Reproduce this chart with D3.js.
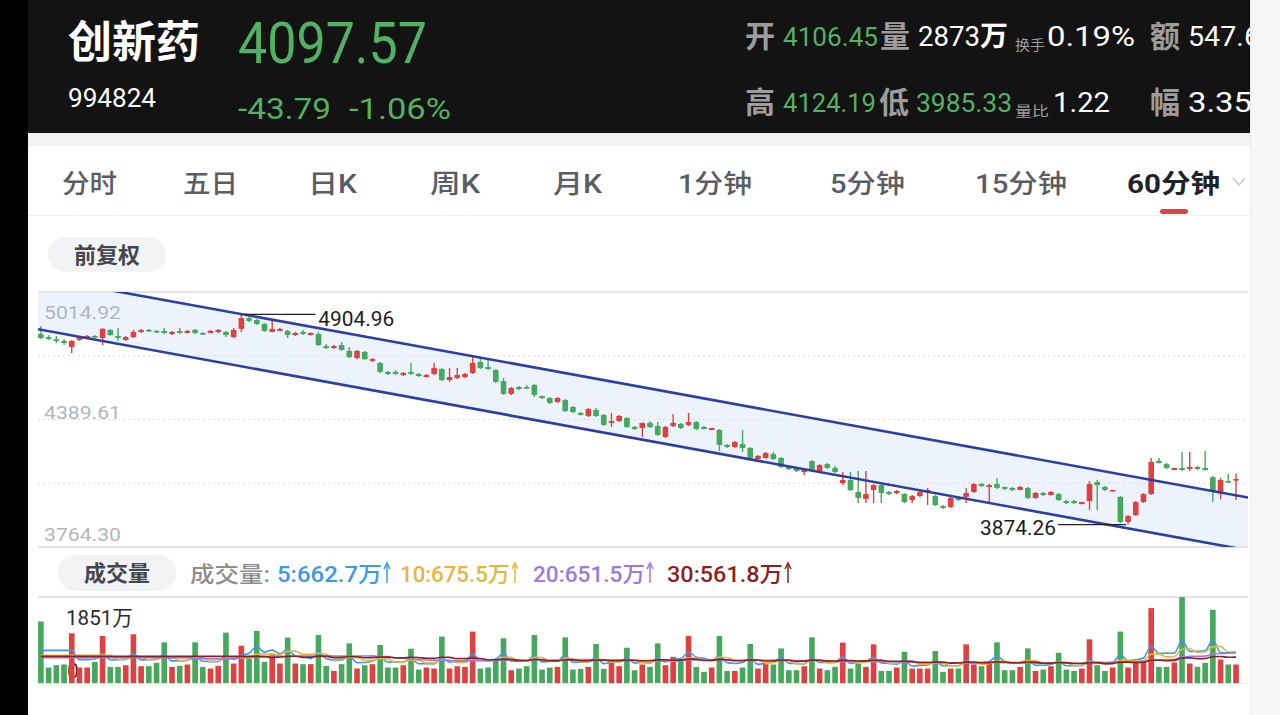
<!DOCTYPE html>
<html>
<head>
<meta charset="utf-8">
<script src="https://cdn.jsdelivr.net/npm/d3@7"></script>
<style>
  body { margin: 0; background: #fff; overflow: hidden; }
  svg { display: block; }
  text { font-family: Roboto, "Noto Sans CJK SC", sans-serif; }
</style>
</head>
<body>
<svg id="chart" width="1280" height="715"></svg>
<script>
// 60-minute candles, oldest first (4 bars per trading day)
const opens = [
  4809, 4794, 4784, 4775, 4745, 4780, 4789, 4799, 4789, 4829,
  4799, 4780, 4794, 4819, 4829, 4824, 4824, 4809, 4824, 4814,
  4829, 4814, 4814, 4819, 4819, 4794, 4834, 4887, 4878, 4858,
  4819, 4824, 4824, 4804, 4819, 4804, 4809, 4750, 4740, 4755,
  4726, 4691, 4721, 4677, 4667, 4623, 4623, 4608, 4623, 4613,
  4598, 4613, 4637, 4583, 4593, 4598, 4618, 4672, 4647, 4632,
  4578, 4515, 4549, 4549, 4559, 4505, 4495, 4475, 4485, 4451,
  4422, 4407, 4436, 4412, 4373, 4382, 4397, 4353, 4348, 4373,
  4358, 4304, 4358, 4368, 4363, 4377, 4353, 4338, 4338, 4265,
  4255, 4269, 4250, 4196, 4201, 4220, 4201, 4157, 4152, 4132,
  4186, 4137, 4171, 4152, 4078, 4093, 4034, 4000, 4044, 4068,
  4034, 4029, 4024, 3995, 4014, 4034, 4014, 3965, 3961, 4005,
  4010, 4034, 4073, 4059, 4073, 4059, 4054, 4044, 4054, 4005,
  4029, 4019, 4024, 3990, 3990, 3975, 3990, 4083, 4059, 4039,
  4010, 3887, 3921, 3985, 4024, 4186, 4171, 4142, 4152, 4147,
  4157, 4152, 4106.45, 4029, 4088, 4093
];
const highs = [
  4848, 4804, 4799, 4784, 4780, 4799, 4804, 4804, 4838, 4834,
  4838, 4799, 4829, 4834, 4834, 4829, 4838, 4824, 4838, 4829,
  4834, 4819, 4829, 4834, 4824, 4838, 4904.96, 4897, 4883, 4863,
  4878, 4838, 4829, 4819, 4829, 4816, 4819, 4760, 4755, 4770,
  4745, 4731, 4726, 4691, 4672, 4628, 4632, 4623, 4667, 4618,
  4613, 4667, 4642, 4642, 4642, 4618, 4696, 4696, 4691, 4637,
  4593, 4549, 4554, 4559, 4564, 4507, 4500, 4500, 4490, 4456,
  4426, 4446, 4446, 4417, 4422, 4412, 4402, 4358, 4375, 4382,
  4377, 4358, 4417, 4373, 4422, 4382, 4358, 4349, 4343, 4269,
  4284, 4338, 4255, 4216, 4230, 4230, 4206, 4162, 4157, 4152,
  4191, 4171, 4176, 4162, 4132, 4132, 4137, 4137, 4073, 4073,
  4039, 4044, 4029, 4019, 4039, 4054, 4019, 3970, 4010, 4010,
  4054, 4078, 4078, 4073, 4103, 4060, 4059, 4063, 4059, 4034,
  4034, 4039, 4029, 3995, 3995, 3986, 4088, 4093, 4063, 4045,
  4014, 3921, 3990, 4029, 4201, 4201, 4176, 4153, 4230, 4230,
  4162, 4235, 4112, 4103, 4122, 4124.19
];
const lows = [
  4784, 4780, 4765, 4755, 4716, 4775, 4784, 4789, 4755, 4799,
  4775, 4775, 4789, 4814, 4819, 4814, 4809, 4804, 4809, 4812,
  4809, 4804, 4812, 4814, 4794, 4789, 4819, 4868, 4853, 4819,
  4817, 4822, 4789, 4799, 4804, 4802, 4750, 4735, 4735, 4726,
  4691, 4686, 4681, 4672, 4618, 4608, 4608, 4603, 4608, 4598,
  4596, 4608, 4578, 4574, 4588, 4593, 4613, 4637, 4632, 4569,
  4510, 4510, 4534, 4539, 4500, 4490, 4466, 4471, 4426, 4422,
  4409, 4402, 4402, 4358, 4353, 4377, 4348, 4338, 4304, 4348,
  4309, 4299, 4353, 4343, 4358, 4338, 4340, 4337, 4235, 4250,
  4250, 4230, 4196, 4191, 4196, 4191, 4152, 4142, 4132, 4117,
  4132, 4132, 4147, 4127, 4068, 4039, 3980, 3980, 3980, 3980,
  4019, 4024, 3980, 3980, 4010, 3970, 3965, 3951, 3956, 3990,
  3980, 4029, 4059, 3985, 4049, 4044, 4039, 4042, 4000, 4000,
  4014, 4017, 3990, 3975, 3975, 3974, 3946, 3946, 4039, 4038,
  3882, 3874.26, 3916, 3980, 4019, 4174, 4147, 4141, 4137, 4137,
  4142, 4139, 3985.33, 3999, 4078, 3995
];
const closes = [
  4789, 4784, 4775, 4765, 4775, 4794, 4799, 4794, 4834, 4804,
  4789, 4794, 4819, 4829, 4824, 4819, 4814, 4819, 4814, 4824,
  4814, 4809, 4824, 4829, 4804, 4829, 4887, 4873, 4858, 4824,
  4834, 4834, 4804, 4814, 4809, 4814, 4755, 4740, 4750, 4731,
  4696, 4726, 4686, 4686, 4623, 4613, 4613, 4618, 4613, 4603,
  4608, 4642, 4583, 4598, 4608, 4613, 4667, 4642, 4637, 4574,
  4515, 4544, 4539, 4544, 4510, 4495, 4471, 4495, 4431, 4426,
  4412, 4441, 4407, 4363, 4382, 4407, 4353, 4343, 4373, 4353,
  4314, 4353, 4373, 4348, 4377, 4343, 4343, 4348, 4265, 4255,
  4279, 4250, 4201, 4211, 4225, 4196, 4157, 4147, 4137, 4142,
  4137, 4166, 4152, 4132, 4093, 4044, 4005, 4024, 4068, 4029,
  4024, 4039, 3985, 4014, 4034, 4044, 3970, 3956, 4005, 3995,
  4029, 4073, 4063, 4068, 4054, 4049, 4044, 4059, 4005, 4029,
  4019, 4034, 3995, 3980, 3980, 3985, 4073, 4068, 4044, 4044,
  3887, 3916, 3985, 4024, 4181, 4176, 4152, 4152, 4142, 4157,
  4147, 4141.36, 4034, 4093, 4083, 4097.57
];
// volume per bar, in 万
const volumes = [
  1323, 333, 383, 398, 1070, 333, 333, 455, 1012, 347,
  347, 383, 1048, 361, 361, 434, 875, 347, 369, 398,
  875, 347, 311, 369, 1084, 419, 802, 528, 1121, 455,
  636, 419, 976, 419, 405, 405, 1034, 369, 260, 405,
  853, 311, 383, 405, 817, 333, 333, 383, 737, 289,
  333, 311, 998, 311, 361, 347, 1106, 311, 333, 477,
  962, 275, 311, 361, 1034, 289, 333, 347, 983, 289,
  304, 347, 839, 304, 434, 361, 759, 275, 398, 347,
  853, 383, 564, 492, 1012, 347, 239, 333, 1012, 260,
  260, 333, 839, 311, 405, 398, 745, 275, 275, 361,
  983, 311, 275, 347, 868, 311, 419, 347, 831, 260,
  260, 333, 672, 311, 311, 311, 687, 239, 311, 311,
  831, 398, 361, 419, 875, 275, 275, 347, 745, 260,
  289, 361, 651, 289, 260, 311, 940, 383, 260, 333,
  1106, 333, 455, 455, 1612, 347, 347, 441, 1851, 419,
  347, 434, 1576, 506, 398, 398
];

const priceTicks = [5014.92, 4389.61, 3764.30];
const volumeMax = 1851;
// hand-drawn channel, as [bar index, price] end points
const channelUpper = [[0, 5085.5], [155, 4017.9]];
const channelLower = [[0, 4830.0], [155, 3758.9]];

const tabs = ["分时", "五日", "日K", "周K", "月K", "1分钟", "5分钟", "15分钟", "60分钟"];
const maPeriods = [5, 10, 20, 30];
const maLabels = ["5:662.7万", "10:675.5万", "20:651.5万", "30:561.8万"];

const RED = "#e0403f", GREEN = "#45a85a", UP_TXT = "#52b162";
const maColors = ["#3d9ae6", "#e9b63b", "#9b7be2", "#8e1f1f"];

const svg = d3.select("#chart");

function label(g, x, y, s, o = {}) {
  const t = g.append("text").attr("x", x).attr("y", y).text(s)
    .attr("font-size", o.size || 20)
    .attr("fill", o.fill || "#333")
    .attr("font-weight", o.weight || 400)
    .attr("text-anchor", o.anchor || "start");
  if (o.len) t.attr("textLength", o.len).attr("lengthAdjust", "spacingAndGlyphs");
  return t;
}

// page background + frame
svg.append("rect").attr("width", 1280).attr("height", 715).attr("fill", "#fff");
svg.append("rect").attr("x", 28).attr("y", 133).attr("width", 1222).attr("height", 13).attr("fill", "#f3f3f3");

// ---- header ----
const head = svg.append("g");
head.append("rect").attr("x", 28).attr("y", 0).attr("width", 1222).attr("height", 133).attr("fill", "#131313");
label(head, 68, 58, "创新药", { size: 44, fill: "#fff", weight: 700, len: 132 });
label(head, 238, 63, "4097.57", { size: 58, fill: UP_TXT, len: 189 });
label(head, 68, 107, "994824", { size: 25, fill: "#fff", len: 88 });
label(head, 238, 119, "-43.79", { size: 30, fill: UP_TXT, len: 93 });
label(head, 349, 119, "-1.06%", { size: 30, fill: UP_TXT, len: 102 });

const GREY = "#9d9d9d";
label(head, 745, 47, "开", { size: 30, fill: GREY, weight: 700 });
label(head, 783, 46, "4106.45", { size: 26, fill: UP_TXT, len: 95 });
label(head, 880, 47, "量", { size: 30, fill: GREY, weight: 700 });
label(head, 918, 46, "2873", { size: 28, fill: "#fff", len: 62 });
label(head, 980, 46, "万", { size: 28, fill: "#fff", weight: 700 });
label(head, 1015, 50, "换手", { size: 14, fill: GREY, len: 30 });
label(head, 1047, 46, "0.19%", { size: 28, fill: "#fff", len: 88 });
label(head, 1150, 47, "额", { size: 30, fill: GREY, weight: 700 });
label(head, 1188, 46, "547.6", { size: 28, fill: "#fff", len: 72 });

label(head, 745, 113, "高", { size: 30, fill: GREY, weight: 700 });
label(head, 783, 112, "4124.19", { size: 26, fill: UP_TXT, len: 93 });
label(head, 879, 113, "低", { size: 30, fill: GREY, weight: 700 });
label(head, 916, 112, "3985.33", { size: 26, fill: UP_TXT, len: 96 });
label(head, 1015, 116, "量比", { size: 14, fill: GREY, len: 34 });
label(head, 1053, 112, "1.22", { size: 28, fill: "#fff", len: 57 });
label(head, 1150, 113, "幅", { size: 30, fill: GREY, weight: 700 });
label(head, 1188, 112, "3.35%", { size: 28, fill: "#fff", len: 88 });

// ---- period tabs ----
const tabX = [62, 183, 308, 430, 553, 678, 830, 975, 1127];
const tabW = [55, 55, 49, 50, 49, 74, 75, 92, 93];
const tg = svg.append("g");
tabs.forEach((t, k) => {
  const active = k === tabs.length - 1;
  label(tg, tabX[k], 193, t, {
    size: 26, fill: active ? "#1f2226" : "#5a5d62", weight: active ? 700 : 500, len: tabW[k]
  });
});
tg.append("polyline").attr("points", "1233,178 1239,185 1245,178")
  .attr("fill", "none").attr("stroke", "#c9c9c9").attr("stroke-width", 1.5);
tg.append("rect").attr("x", 1160).attr("y", 209).attr("width", 28).attr("height", 5)
  .attr("rx", 2.5).attr("fill", "#d8473d");
tg.append("line").attr("x1", 28).attr("x2", 1250).attr("y1", 215.5).attr("y2", 215.5)
  .attr("stroke", "#efefef");

// pill buttons
function pill(x, y, w, h, s) {
  svg.append("rect").attr("x", x).attr("y", y).attr("width", w).attr("height", h)
    .attr("rx", h / 2).attr("fill", "#f2f3f5");
  label(svg, x + w / 2, y + h / 2 + 8, s, { size: 22, fill: "#43464b", weight: 600, anchor: "middle" });
}
pill(48, 237, 118, 35, "前复权");
pill(58, 555, 118, 36, "成交量");

// ---- price panel ----
const L = 38, R = 1248, T = 292, B = 547;
const x = d3.scaleLinear().domain([0, opens.length - 1]).range([40.9, 1236]);
const y = d3.scaleLinear().domain([priceTicks[2], priceTicks[0]]).range([B, T]);
const bw = 5.6;

const bars = opens.map((o, i) => ({ i, o, h: highs[i], l: lows[i], c: closes[i], v: volumes[i] }));
const colour = d => (d.c >= d.o ? RED : GREEN);

svg.append("defs").append("clipPath").attr("id", "pclip")
  .append("rect").attr("x", L).attr("y", T).attr("width", R - L).attr("height", B - T);

const at = (pts, i) => pts[0][1] + (pts[1][1] - pts[0][1]) * (i - pts[0][0]) / (pts[1][0] - pts[0][0]);
const iL = x.invert(L), iR = x.invert(R);

const pane = svg.append("g");
pane.append("polygon").attr("clip-path", "url(#pclip)")
  .attr("points", [
    [x(iL), y(at(channelUpper, iL))], [x(iR), y(at(channelUpper, iR))],
    [x(iR), y(at(channelLower, iR))], [x(iL), y(at(channelLower, iL))]
  ].map(p => p.join(",")).join(" "))
  .attr("fill", "#edf3fc");

// grid: quarters of the price range
const gridPrices = d3.range(5).map(k => priceTicks[2] + k * (priceTicks[0] - priceTicks[2]) / 4);
gridPrices.forEach((p, k) => {
  const edge = k === 0 || k === 4;
  pane.append("line").attr("x1", L).attr("x2", R).attr("y1", y(p)).attr("y2", y(p))
    .attr("stroke", edge ? "#e4e4e4" : "#dcdcdc")
    .attr("stroke-width", edge ? 2 : 1)
    .attr("stroke-dasharray", edge ? null : "2,3");
});

label(pane, 44, y(priceTicks[0]) + 27, d3.format(".2f")(priceTicks[0]), { size: 19, fill: "#b3b6bb", len: 77 });
label(pane, 44, y(priceTicks[1]) - 1, d3.format(".2f")(priceTicks[1]), { size: 19, fill: "#b3b6bb", len: 77 });
label(pane, 44, y(priceTicks[2]) - 6, d3.format(".2f")(priceTicks[2]), { size: 19, fill: "#b3b6bb", len: 77 });

const candles = pane.selectAll("g.candle").data(bars).enter().append("g").attr("class", "candle");
candles.append("line")
  .attr("x1", d => x(d.i)).attr("x2", d => x(d.i))
  .attr("y1", d => y(d.h)).attr("y2", d => y(d.l))
  .attr("stroke", colour).attr("stroke-width", 1.4);
candles.append("rect")
  .attr("x", d => x(d.i) - bw / 2).attr("width", bw)
  .attr("y", d => y(Math.max(d.o, d.c)))
  .attr("height", d => Math.max(1.6, Math.abs(y(d.o) - y(d.c))))
  .attr("fill", colour);

[channelUpper, channelLower].forEach(ch => {
  pane.append("line").attr("clip-path", "url(#pclip)")
    .attr("x1", x(iL)).attr("y1", y(at(ch, iL)))
    .attr("x2", x(iR)).attr("y2", y(at(ch, iR)))
    .attr("stroke", "#2b3fa6").attr("stroke-width", 2.6);
});

// extreme markers
const hi = d3.maxIndex(highs), lo = d3.minIndex(lows);
pane.append("line").attr("x1", x(hi) + 3).attr("x2", x(hi) + 74)
  .attr("y1", y(highs[hi])).attr("y2", y(highs[hi])).attr("stroke", "#222").attr("stroke-width", 1.2);
label(pane, x(hi) + 77, y(highs[hi]) + 12, d3.format(".2f")(highs[hi]), { size: 21, fill: "#1d1d1d", len: 76 });
pane.append("line").attr("x1", x(lo) - 2).attr("x2", x(lo) - 70)
  .attr("y1", y(lows[lo])).attr("y2", y(lows[lo])).attr("stroke", "#222").attr("stroke-width", 1.2);
label(pane, x(lo) - 72, y(lows[lo]) + 10, d3.format(".2f")(lows[lo]), { size: 21, fill: "#1d1d1d", len: 76, anchor: "end" });

// ---- volume panel ----
const VT = 597, VB = 683;
const vy = d3.scaleLinear().domain([0, volumeMax]).range([VB, VT]);
const vol = svg.append("g");
vol.append("line").attr("x1", L).attr("x2", R).attr("y1", VT).attr("y2", VT)
  .attr("stroke", "#e4e4e4").attr("stroke-width", 2);
vol.append("line").attr("x1", L).attr("x2", R).attr("y1", VB + 0.5).attr("y2", VB + 0.5)
  .attr("stroke", "#ececec");

label(vol, 190, 582, "成交量:", { size: 22, fill: "#8e8e8e", weight: 500, len: 80 });
const legX = [277, 400, 533, 667], legW = [105, 110, 112, 116];
maLabels.forEach((s, k) => {
  label(vol, legX[k], 582, s, { size: 22, fill: maColors[k], weight: 500, len: legW[k] });
  const ax = legX[k] + legW[k] + 5;
  vol.append("line").attr("x1", ax).attr("x2", ax).attr("y1", 564).attr("y2", 583)
    .attr("stroke", maColors[k]).attr("stroke-width", 1.5);
  vol.append("polyline").attr("points", `${ax - 3},569 ${ax},563 ${ax + 3},569`)
    .attr("fill", "none").attr("stroke", maColors[k]).attr("stroke-width", 1.5);
});

label(vol, 67, 678, "0", { size: 21, fill: "#333" });
vol.selectAll("rect.vbar").data(bars).enter().append("rect").attr("class", "vbar")
  .attr("x", d => x(d.i) - bw / 2).attr("width", bw)
  .attr("y", d => vy(d.v)).attr("height", d => VB - vy(d.v))
  .attr("fill", colour);

// moving averages of volume; the first bars reuse the first full window
maPeriods.forEach((p, k) => {
  const ma = volumes.map((v, i) => d3.mean(volumes.slice(Math.max(0, i - p + 1), Math.max(p, i + 1))));
  vol.append("path").datum(ma)
    .attr("d", d3.line().x((d, i) => x(i)).y(d => vy(d)).curve(d3.curveMonotoneX))
    .attr("fill", "none").attr("stroke", maColors[k]).attr("stroke-width", 1.6);
});
label(vol, 66, 625, volumeMax + "万", { size: 21, fill: "#2b2b2b", len: 67 });

// side frame
svg.append("rect").attr("x", 0).attr("y", 0).attr("width", 28).attr("height", 715).attr("fill", "#000");
svg.append("rect").attr("x", 1250).attr("y", 0).attr("width", 30).attr("height", 715).attr("fill", "#f7f7f7");
svg.append("line").attr("x1", 1250.5).attr("x2", 1250.5).attr("y1", 0).attr("y2", 715).attr("stroke", "#ebebeb");
</script>
</body>
</html>
